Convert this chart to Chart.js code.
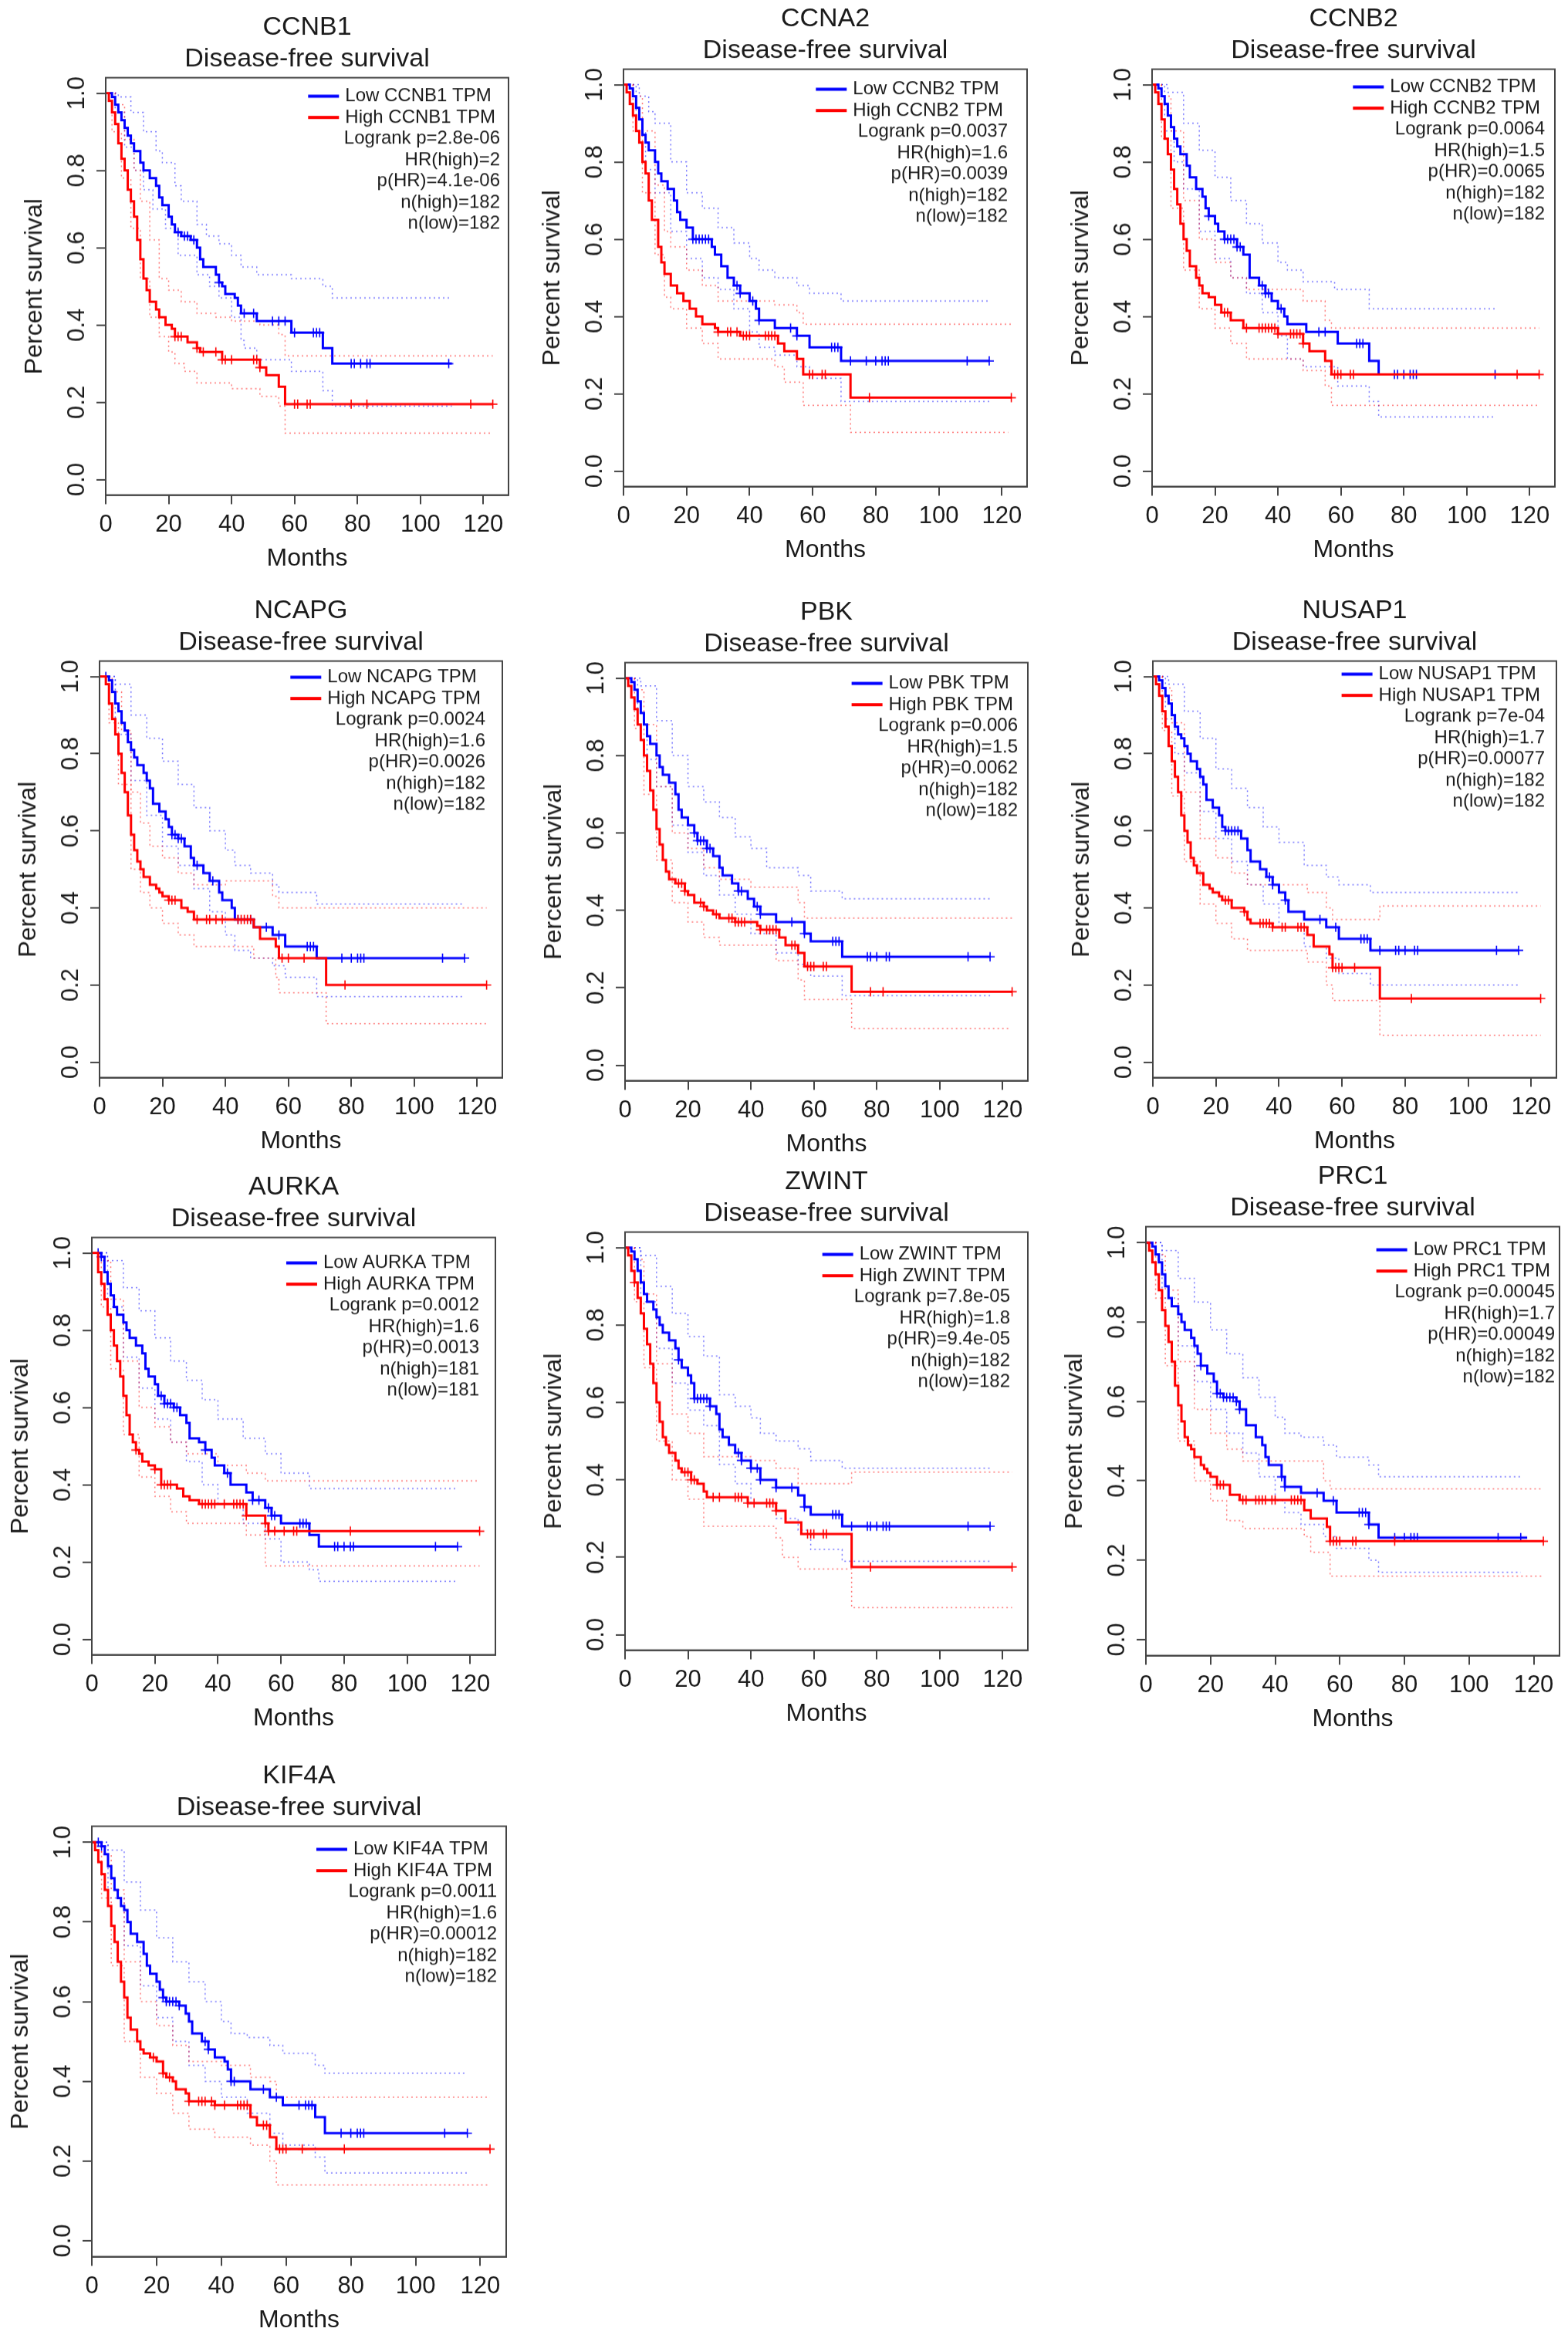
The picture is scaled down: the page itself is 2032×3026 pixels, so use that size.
<!DOCTYPE html>
<html>
<head>
<meta charset="utf-8">
<title>Disease-free survival, 10 genes</title>
<script src="https://cdn.jsdelivr.net/npm/chart.js@4.4.1/dist/chart.umd.min.js"></script>
<style>
  html, body { margin: 0; padding: 0; background: #fff; }
  #page { position: relative; width: 2032px; height: 3026px; }
  .panel { position: absolute; }
</style>
</head>
<body>
<div id="page"></div>
<script>
/* ---------- Data ---------- */

const geneNames = ['CCNB1', 'CCNA2', 'CCNB2', 'NCAPG', 'PBK', 'NUSAP1', 'AURKA', 'ZWINT', 'PRC1', 'KIF4A'];
// the CCNA2 panel is labelled with CCNB2 in its legend, as in the original
const legendGenes = ['CCNB1', 'CCNB2', 'CCNB2', 'NCAPG', 'PBK', 'NUSAP1', 'AURKA', 'ZWINT', 'PRC1', 'KIF4A'];
const monthTicks = [0, 20, 40, 60, 80, 100, 120];
const survivalTicks = [0, 0.2, 0.4, 0.6, 0.8, 1.0];

const logrankP = ['2.8e-06', '0.0037', '0.0064', '0.0024', '0.006', '7e-04', '0.0012', '7.8e-05', '0.00045', '0.0011'];
const hrHigh = ['2', '1.6', '1.5', '1.6', '1.5', '1.7', '1.6', '1.8', '1.7', '1.6'];
const pHR = ['4.1e-06', '0.0039', '0.0065', '0.0026', '0.0062', '0.00077', '0.0013', '9.4e-05', '0.00049', '0.00012'];
const nHigh = [182, 182, 182, 182, 182, 182, 181, 182, 182, 182];
const nLow = [182, 182, 182, 182, 182, 182, 181, 182, 182, 182];

// CCNB1
const ccnb1Low = [[0,1],[2,0.99],[3,0.97],[4,0.95],[5,0.93],[6,0.91],[7,0.89],[8,0.87],[9,0.85],[11,0.82],[12,0.80],[14,0.78],[16,0.76],[17,0.73],[18,0.71],[20,0.68],[21,0.66],[22,0.64],[24,0.63],[27,0.62],[29,0.60],[30,0.57],[31,0.55],[35,0.53],[36,0.51],[37,0.50],[38,0.48],[41,0.47],[42,0.45],[43,0.43],[48,0.41],[59,0.38],[69,0.34],[72,0.30],[110,0.30]];
const ccnb1High = [[0,1],[1,0.98],[2,0.95],[3,0.92],[4,0.87],[5,0.83],[6,0.80],[7,0.75],[8,0.72],[9,0.68],[10,0.62],[11,0.57],[12,0.52],[13,0.49],[14,0.46],[16,0.44],[17,0.42],[19,0.40],[21,0.39],[22,0.37],[26,0.355],[29,0.34],[30,0.33],[37,0.31],[49,0.29],[51,0.27],[55,0.24],[57,0.195],[123,0.195]];
const ccnb1LowCens = [23,25,26,28,36,44,47,53,55,57,60,66,67,68,78,79,81,83,84,109];
const ccnb1HighCens = [22,23,24,29,31,35,37,38,40,47,48,49,60,61,64,65,78,83,116,123];
const ccnb1LowUp = [[0,1],[4,0.99],[8,0.95],[12,0.90],[16,0.85],[18,0.82],[22,0.76],[24,0.72],[29,0.66],[32,0.63],[36,0.61],[40,0.58],[43,0.55],[48,0.53],[59,0.52],[69,0.50],[72,0.47],[110,0.47]];
const ccnb1LowDn = [[0,1],[3,0.95],[6,0.86],[9,0.80],[12,0.75],[15,0.70],[19,0.65],[23,0.58],[29,0.53],[33,0.50],[36,0.47],[40,0.42],[43,0.36],[44,0.34],[48,0.31],[59,0.28],[69,0.23],[72,0.19],[110,0.19]];
const ccnb1HighUp = [[0,1],[3,0.97],[6,0.88],[9,0.80],[11,0.72],[14,0.62],[17,0.52],[20,0.49],[24,0.46],[29,0.43],[35,0.42],[40,0.41],[49,0.40],[55,0.375],[57,0.32],[123,0.32]];
const ccnb1HighDn = [[0,1],[2,0.90],[5,0.78],[8,0.65],[11,0.52],[14,0.42],[17,0.37],[20,0.33],[22,0.30],[25,0.28],[29,0.25],[40,0.235],[49,0.215],[55,0.19],[57,0.12],[123,0.12]];

// CCNA2
const ccna2Low = [[0,1],[2,0.99],[3,0.97],[4,0.94],[5,0.91],[6,0.87],[7,0.85],[8,0.83],[10,0.80],[11,0.77],[12,0.75],[14,0.73],[16,0.70],[17,0.67],[18,0.65],[20,0.63],[22,0.60],[28,0.58],[29,0.56],[31,0.53],[33,0.50],[35,0.48],[37,0.46],[40,0.44],[42,0.42],[43,0.39],[48,0.37],[55,0.35],[59,0.32],[69,0.285],[116,0.285]];
const ccna2High = [[0,1],[1,0.98],[2,0.95],[3,0.92],[4,0.88],[5,0.85],[6,0.80],[7,0.77],[8,0.70],[9,0.65],[11,0.58],[12,0.54],[13,0.51],[15,0.48],[17,0.46],[19,0.44],[21,0.42],[23,0.40],[25,0.38],[29,0.37],[30,0.36],[37,0.35],[49,0.33],[51,0.31],[55,0.29],[57,0.25],[72,0.19],[123,0.19]];
const ccna2LowCens = [22,23,24,25,26,27,36,37,41,43,53,55,66,67,68,72,77,80,82,83,84,109,116];
const ccna2HighCens = [30,33,34,36,38,39,40,45,46,47,48,59,60,63,64,78,123];
const ccna2LowUp = [[0,1],[5,0.97],[8,0.93],[10,0.90],[15,0.80],[20,0.72],[25,0.68],[30,0.63],[35,0.59],[40,0.55],[43,0.52],[48,0.50],[55,0.48],[59,0.46],[69,0.44],[116,0.44]];
const ccna2LowDn = [[0,1],[4,0.88],[7,0.78],[10,0.72],[15,0.62],[20,0.55],[25,0.50],[30,0.47],[35,0.42],[40,0.36],[43,0.32],[48,0.30],[55,0.27],[59,0.24],[69,0.18],[116,0.18]];
const ccna2HighUp = [[0,1],[3,0.97],[6,0.88],[10,0.74],[13,0.62],[15,0.58],[20,0.52],[25,0.48],[30,0.44],[40,0.44],[48,0.43],[55,0.41],[57,0.38],[123,0.38]];
const ccna2HighDn = [[0,1],[3,0.88],[6,0.72],[10,0.56],[13,0.45],[15,0.42],[20,0.37],[25,0.33],[30,0.29],[48,0.27],[51,0.23],[57,0.17],[72,0.10],[122,0.10]];

// CCNB2
const ccnb2Low = [[0,1],[2,0.99],[3,0.97],[4,0.95],[5,0.92],[6,0.89],[7,0.86],[8,0.84],[9,0.82],[11,0.79],[12,0.76],[14,0.73],[16,0.71],[17,0.68],[18,0.66],[20,0.64],[21,0.62],[23,0.60],[27,0.58],[29,0.56],[31,0.50],[34,0.48],[36,0.46],[38,0.44],[40,0.42],[42,0.40],[43,0.38],[49,0.36],[59,0.33],[69,0.285],[72,0.25],[109,0.25]];
const ccnb2High = [[0,1],[1,0.98],[2,0.95],[3,0.91],[4,0.86],[5,0.82],[6,0.78],[7,0.73],[8,0.69],[9,0.64],[10,0.60],[11,0.57],[12,0.53],[14,0.50],[15,0.48],[16,0.46],[18,0.45],[20,0.43],[22,0.41],[25,0.39],[29,0.37],[40,0.355],[48,0.33],[50,0.31],[55,0.285],[57,0.25],[123,0.25]];
const ccnb2LowCens = [18,23,24,25,26,27,28,35,36,37,41,53,55,65,66,67,77,78,80,82,83,84,109];
const ccnb2HighCens = [23,24,30,34,35,36,37,38,39,40,44,45,46,47,48,58,59,60,63,64,116,123];
const ccnb2LowUp = [[0,1],[5,0.98],[10,0.90],[15,0.83],[20,0.76],[25,0.70],[30,0.64],[35,0.59],[40,0.54],[43,0.52],[48,0.49],[58,0.47],[69,0.42],[109,0.42]];
const ccnb2LowDn = [[0,1],[4,0.88],[7,0.80],[10,0.73],[15,0.62],[20,0.55],[25,0.50],[30,0.46],[35,0.41],[40,0.35],[43,0.29],[48,0.27],[59,0.22],[69,0.18],[72,0.14],[109,0.14]];
const ccnb2HighUp = [[0,1],[3,0.97],[6,0.88],[10,0.70],[15,0.60],[20,0.54],[25,0.50],[30,0.47],[48,0.44],[55,0.39],[57,0.37],[123,0.37]];
const ccnb2HighDn = [[0,1],[3,0.86],[6,0.68],[10,0.52],[15,0.42],[20,0.37],[25,0.33],[30,0.29],[48,0.26],[55,0.22],[57,0.17],[123,0.17]];

// NCAPG
const ncapgLow = [[0,1],[3,0.99],[4,0.96],[5,0.93],[6,0.91],[7,0.88],[8,0.86],[9,0.83],[10,0.81],[11,0.79],[12,0.77],[14,0.75],[15,0.73],[16,0.71],[17,0.67],[19,0.65],[21,0.63],[22,0.61],[23,0.59],[25,0.58],[27,0.56],[29,0.53],[30,0.51],[33,0.49],[35,0.47],[38,0.44],[39,0.42],[42,0.40],[43,0.37],[49,0.35],[55,0.33],[59,0.30],[69,0.27],[116,0.27]];
const ncapgHigh = [[0,1],[2,0.98],[3,0.93],[4,0.89],[5,0.85],[6,0.80],[7,0.75],[8,0.70],[9,0.64],[10,0.59],[11,0.55],[12,0.52],[13,0.50],[14,0.48],[16,0.46],[18,0.45],[19,0.44],[20,0.43],[22,0.42],[26,0.40],[28,0.39],[30,0.37],[49,0.35],[51,0.32],[56,0.30],[57,0.27],[72,0.20],[123,0.20]];
const ncapgLowCens = [2,23,24,25,26,31,36,44,48,53,57,66,67,68,77,80,82,83,84,109,116];
const ncapgHighCens = [22,23,24,31,34,35,37,39,44,45,46,47,48,58,60,65,78,123];
const ncapgLowUp = [[0,1],[5,0.98],[10,0.90],[15,0.84],[20,0.78],[25,0.72],[30,0.66],[35,0.60],[40,0.55],[43,0.51],[48,0.49],[55,0.46],[57,0.44],[69,0.41],[116,0.41]];
const ncapgLowDn = [[0,1],[5,0.85],[10,0.73],[15,0.64],[20,0.56],[25,0.51],[30,0.45],[35,0.39],[40,0.33],[43,0.29],[48,0.27],[55,0.25],[59,0.22],[69,0.17],[116,0.17]];
const ncapgHighUp = [[0,1],[4,0.96],[7,0.86],[10,0.70],[13,0.62],[16,0.56],[20,0.53],[25,0.49],[30,0.46],[40,0.47],[48,0.47],[55,0.43],[57,0.40],[123,0.40]];
const ncapgHighDn = [[0,1],[3,0.88],[6,0.72],[10,0.50],[13,0.44],[16,0.40],[20,0.36],[25,0.33],[30,0.30],[49,0.27],[56,0.22],[57,0.18],[72,0.10],[123,0.10]];

// PBK
const pbkLow = [[0,1],[2,0.99],[3,0.97],[4,0.94],[5,0.91],[6,0.88],[7,0.85],[8,0.83],[10,0.80],[11,0.77],[12,0.75],[14,0.73],[16,0.70],[17,0.66],[18,0.64],[20,0.62],[22,0.60],[23,0.58],[26,0.56],[28,0.54],[30,0.51],[31,0.49],[34,0.47],[36,0.45],[39,0.43],[41,0.41],[43,0.39],[48,0.37],[57,0.34],[59,0.32],[69,0.28],[116,0.28]];
const pbkHigh = [[0,1],[1,0.98],[2,0.95],[3,0.92],[4,0.88],[5,0.84],[6,0.80],[7,0.76],[8,0.71],[9,0.66],[10,0.61],[11,0.57],[12,0.53],[13,0.50],[14,0.48],[16,0.47],[19,0.45],[20,0.44],[22,0.42],[25,0.41],[26,0.40],[28,0.39],[30,0.38],[35,0.37],[42,0.36],[43,0.35],[49,0.33],[51,0.31],[55,0.29],[57,0.255],[72,0.19],[123,0.19]];
const pbkLowCens = [22,23,24,25,26,27,36,37,42,43,53,57,66,67,68,77,78,80,83,84,109,116];
const pbkHighCens = [17,18,19,24,25,29,33,34,35,36,37,38,43,45,46,47,48,53,54,58,59,60,63,64,78,82,123];
const pbkLowUp = [[0,1],[5,0.98],[10,0.89],[15,0.80],[20,0.72],[25,0.68],[30,0.64],[35,0.59],[40,0.56],[45,0.51],[55,0.49],[59,0.45],[69,0.43],[116,0.43]];
const pbkLowDn = [[0,1],[4,0.88],[7,0.79],[10,0.72],[15,0.62],[20,0.55],[25,0.49],[30,0.44],[35,0.39],[40,0.34],[48,0.29],[55,0.26],[59,0.23],[69,0.18],[116,0.18]];
const pbkHighUp = [[0,1],[3,0.97],[6,0.88],[10,0.72],[15,0.60],[20,0.56],[25,0.51],[30,0.48],[40,0.46],[48,0.46],[55,0.42],[57,0.38],[123,0.38]];
const pbkHighDn = [[0,1],[3,0.87],[6,0.70],[10,0.53],[15,0.42],[20,0.37],[25,0.33],[30,0.31],[48,0.27],[55,0.22],[57,0.17],[72,0.095],[122,0.095]];

// NUSAP1
const nusap1Low = [[0,1],[2,0.99],[3,0.97],[4,0.95],[5,0.93],[6,0.90],[7,0.87],[8,0.85],[9,0.84],[10,0.82],[11,0.80],[12,0.78],[14,0.76],[15,0.74],[16,0.72],[17,0.68],[19,0.66],[21,0.64],[22,0.61],[23,0.60],[28,0.58],[30,0.55],[31,0.52],[34,0.50],[36,0.48],[38,0.46],[40,0.44],[42,0.42],[43,0.39],[48,0.37],[55,0.35],[59,0.32],[69,0.29],[116,0.29]];
const nusap1High = [[0,1],[1,0.98],[2,0.95],[3,0.91],[4,0.87],[5,0.82],[6,0.78],[7,0.74],[8,0.70],[9,0.64],[10,0.60],[11,0.57],[12,0.53],[13,0.51],[14,0.49],[16,0.46],[18,0.45],[19,0.44],[21,0.43],[22,0.42],[25,0.40],[29,0.39],[30,0.37],[31,0.36],[38,0.35],[49,0.33],[51,0.30],[56,0.28],[57,0.245],[72,0.165],[123,0.165]];
const nusap1LowCens = [23,24,25,26,27,37,38,42,53,58,66,67,68,72,77,78,80,83,84,109,116];
const nusap1HighCens = [23,24,29,34,35,36,37,38,41,42,46,47,48,57,58,59,60,64,82,123];
const nusap1LowUp = [[0,1],[5,0.98],[10,0.91],[15,0.84],[20,0.76],[25,0.71],[30,0.66],[35,0.61],[40,0.57],[48,0.51],[55,0.48],[59,0.46],[69,0.44],[116,0.44]];
const nusap1LowDn = [[0,1],[4,0.89],[7,0.80],[10,0.75],[15,0.65],[20,0.58],[25,0.52],[30,0.46],[35,0.41],[40,0.35],[48,0.30],[55,0.27],[59,0.23],[69,0.20],[116,0.20]];
const nusap1HighUp = [[0,1],[3,0.97],[6,0.88],[10,0.70],[15,0.58],[20,0.53],[25,0.49],[30,0.46],[40,0.46],[49,0.44],[55,0.40],[57,0.37],[72,0.405],[123,0.405]];
const nusap1HighDn = [[0,1],[3,0.86],[6,0.69],[10,0.52],[15,0.41],[20,0.36],[25,0.32],[30,0.29],[49,0.26],[55,0.20],[57,0.16],[72,0.07],[123,0.07]];

// AURKA
const aurkaLow = [[0,1],[3,0.99],[4,0.95],[5,0.92],[6,0.89],[7,0.86],[8,0.84],[10,0.82],[11,0.80],[12,0.78],[14,0.76],[16,0.74],[17,0.70],[18,0.68],[20,0.66],[21,0.63],[23,0.61],[26,0.60],[28,0.58],[30,0.56],[31,0.52],[34,0.51],[36,0.49],[38,0.47],[39,0.45],[42,0.43],[44,0.40],[49,0.38],[51,0.36],[55,0.34],[57,0.32],[60,0.30],[69,0.27],[72,0.24],[116,0.24]];
const aurkaHigh = [[0,1],[2,0.95],[3,0.92],[4,0.88],[5,0.84],[6,0.80],[7,0.76],[8,0.72],[9,0.68],[10,0.63],[11,0.58],[12,0.53],[13,0.51],[14,0.49],[15,0.48],[16,0.46],[18,0.45],[20,0.44],[22,0.40],[27,0.39],[29,0.37],[31,0.36],[34,0.35],[49,0.32],[55,0.30],[56,0.28],[123,0.28]];
const aurkaLowCens = [2,3,22,23,24,25,26,27,36,43,51,53,56,57,58,66,67,68,77,78,80,82,83,109,116];
const aurkaHighCens = [14,20,22,23,24,25,35,36,37,38,39,42,45,46,47,48,49,55,56,58,61,64,65,82,123];
const aurkaLowUp = [[0,1],[5,0.98],[10,0.91],[15,0.85],[20,0.78],[25,0.72],[30,0.67],[35,0.62],[40,0.57],[48,0.52],[55,0.48],[60,0.43],[69,0.39],[116,0.39]];
const aurkaLowDn = [[0,1],[5,0.86],[10,0.73],[15,0.65],[20,0.57],[25,0.51],[30,0.46],[35,0.40],[40,0.35],[48,0.30],[55,0.26],[60,0.20],[69,0.18],[72,0.15],[116,0.15]];
const aurkaHighUp = [[0,1],[3,0.98],[6,0.88],[10,0.72],[15,0.60],[20,0.55],[25,0.51],[30,0.48],[40,0.45],[49,0.43],[55,0.41],[123,0.41]];
const aurkaHighDn = [[0,1],[3,0.86],[6,0.70],[10,0.53],[15,0.42],[20,0.37],[25,0.33],[30,0.30],[49,0.27],[55,0.19],[123,0.19]];

// ZWINT
const zwintLow = [[0,1],[2,0.99],[3,0.97],[4,0.94],[5,0.91],[6,0.88],[7,0.86],[9,0.84],[10,0.82],[11,0.80],[12,0.78],[14,0.76],[16,0.74],[17,0.71],[18,0.69],[20,0.67],[21,0.65],[22,0.61],[27,0.59],[29,0.57],[30,0.53],[31,0.51],[33,0.49],[35,0.47],[37,0.45],[40,0.43],[43,0.40],[48,0.38],[55,0.36],[57,0.33],[59,0.31],[69,0.28],[116,0.28]];
const zwintHigh = [[0,1],[1,0.98],[2,0.94],[3,0.91],[4,0.87],[5,0.83],[6,0.79],[7,0.75],[8,0.70],[9,0.65],[10,0.60],[11,0.55],[12,0.51],[13,0.49],[14,0.47],[16,0.45],[17,0.43],[18,0.42],[21,0.40],[23,0.39],[25,0.37],[26,0.355],[39,0.34],[48,0.32],[51,0.29],[56,0.26],[72,0.175],[123,0.175]];
const zwintLowCens = [17,22,23,24,25,26,27,36,37,40,42,43,48,53,57,66,67,68,72,77,78,80,82,83,84,109,116];
const zwintHighCens = [3,19,20,21,22,28,30,35,36,37,39,41,45,46,47,48,58,59,60,63,64,78,123];
const zwintLowUp = [[0,1],[5,0.98],[10,0.90],[15,0.83],[20,0.77],[25,0.72],[30,0.62],[35,0.59],[40,0.56],[43,0.52],[48,0.50],[55,0.48],[59,0.45],[69,0.43],[116,0.43]];
const zwintLowDn = [[0,1],[5,0.86],[10,0.74],[15,0.65],[20,0.58],[25,0.54],[30,0.44],[35,0.39],[40,0.34],[48,0.30],[55,0.27],[59,0.22],[69,0.19],[116,0.19]];
const zwintHighUp = [[0,1],[3,0.97],[6,0.88],[10,0.70],[15,0.57],[20,0.52],[25,0.46],[40,0.45],[48,0.43],[55,0.39],[72,0.42],[123,0.42]];
const zwintHighDn = [[0,1],[3,0.86],[6,0.69],[10,0.50],[15,0.40],[20,0.35],[25,0.28],[48,0.25],[50,0.20],[55,0.17],[72,0.07],[123,0.07]];

// PRC1
const prc1Low = [[0,1],[2,0.99],[3,0.97],[4,0.95],[5,0.92],[6,0.89],[7,0.86],[8,0.84],[10,0.82],[11,0.80],[12,0.78],[14,0.76],[15,0.74],[16,0.72],[17,0.69],[19,0.67],[21,0.65],[22,0.62],[24,0.61],[28,0.60],[29,0.58],[31,0.54],[34,0.51],[36,0.49],[37,0.46],[38,0.44],[42,0.41],[43,0.385],[48,0.37],[55,0.35],[59,0.32],[69,0.29],[72,0.257],[118,0.257]];
const prc1High = [[0,1],[1,0.98],[2,0.95],[3,0.92],[4,0.88],[5,0.83],[6,0.79],[7,0.75],[8,0.70],[9,0.64],[10,0.59],[11,0.55],[12,0.51],[13,0.49],[14,0.48],[15,0.46],[17,0.44],[18,0.43],[19,0.42],[20,0.41],[22,0.39],[26,0.365],[29,0.352],[49,0.326],[51,0.305],[56,0.284],[57,0.248],[123,0.248]];
const prc1LowCens = [17,22,23,24,25,26,27,28,29,42,43,53,58,66,67,68,69,77,80,82,83,84,109,116];
const prc1HighCens = [22,23,24,30,31,34,35,36,37,39,40,45,46,47,48,57,58,59,60,64,65,77,123];
const prc1LowUp = [[0,1],[5,0.98],[10,0.91],[15,0.85],[20,0.78],[25,0.72],[30,0.66],[35,0.61],[40,0.56],[43,0.52],[48,0.51],[55,0.49],[59,0.46],[69,0.44],[72,0.41],[116,0.41]];
const prc1LowDn = [[0,1],[5,0.86],[10,0.74],[15,0.65],[20,0.58],[25,0.52],[30,0.47],[35,0.41],[40,0.35],[43,0.32],[48,0.29],[55,0.26],[59,0.23],[69,0.20],[72,0.17],[116,0.17]];
const prc1HighUp = [[0,1],[3,0.97],[6,0.88],[10,0.70],[15,0.58],[20,0.52],[25,0.48],[30,0.45],[48,0.45],[55,0.40],[57,0.38],[123,0.38]];
const prc1HighDn = [[0,1],[3,0.86],[6,0.69],[10,0.50],[15,0.40],[20,0.35],[25,0.30],[30,0.28],[49,0.26],[51,0.22],[57,0.16],[123,0.16]];

// KIF4A
const kif4aLow = [[0,1],[3,0.99],[4,0.97],[5,0.94],[6,0.91],[7,0.88],[8,0.86],[9,0.84],[10,0.83],[11,0.80],[12,0.77],[14,0.75],[16,0.72],[17,0.69],[18,0.67],[20,0.65],[21,0.63],[22,0.61],[23,0.60],[27,0.59],[29,0.57],[30,0.55],[31,0.52],[34,0.50],[36,0.48],[38,0.46],[41,0.45],[42,0.43],[43,0.40],[49,0.38],[55,0.36],[59,0.34],[69,0.31],[72,0.27],[116,0.27]];
const kif4aHigh = [[0,1],[1,0.98],[2,0.95],[3,0.92],[4,0.88],[5,0.84],[6,0.79],[7,0.75],[8,0.70],[9,0.65],[10,0.61],[11,0.56],[12,0.53],[14,0.50],[15,0.48],[16,0.47],[18,0.46],[20,0.45],[22,0.42],[23,0.41],[25,0.40],[26,0.38],[29,0.37],[30,0.35],[38,0.34],[49,0.31],[51,0.29],[55,0.26],[57,0.23],[123,0.23]];
const kif4aLowCens = [2,3,22,23,24,25,26,27,35,36,43,44,53,57,64,66,67,68,77,80,82,83,84,109,116];
const kif4aHighCens = [19,22,24,30,33,34,35,37,38,41,45,46,47,48,53,54,58,59,60,65,78,123];
const kif4aLowUp = [[0,1],[5,0.98],[10,0.90],[15,0.83],[20,0.76],[25,0.70],[30,0.65],[35,0.60],[40,0.55],[43,0.52],[48,0.51],[55,0.49],[59,0.47],[69,0.44],[72,0.42],[116,0.42]];
const kif4aLowDn = [[0,1],[5,0.86],[10,0.74],[15,0.64],[20,0.56],[25,0.50],[30,0.44],[35,0.40],[40,0.36],[48,0.32],[55,0.27],[59,0.24],[69,0.21],[72,0.17],[116,0.17]];
const kif4aHighUp = [[0,1],[3,0.97],[6,0.88],[10,0.70],[15,0.60],[20,0.54],[25,0.49],[30,0.45],[40,0.44],[49,0.41],[55,0.40],[57,0.36],[123,0.36]];
const kif4aHighDn = [[0,1],[3,0.86],[6,0.69],[10,0.50],[15,0.41],[20,0.37],[25,0.32],[30,0.28],[38,0.26],[49,0.24],[55,0.20],[57,0.14],[123,0.14]];

/* ---------- Layout (page pixels: plot box left, top, right, bottom) ---------- */

const plotBoxes = [
  [137, 101, 659, 641], [808, 90, 1331, 630], [1493, 90, 2015, 630],
  [129, 857, 651, 1396], [810, 859, 1332, 1400], [1494, 857, 2017, 1396],
  [119, 1604, 642, 2144], [810, 1597, 1332, 2138], [1485, 1590, 2021, 2145],
  [119, 2367, 656, 2924]
];
// legend: inset from the right edge, first line below the top edge
const legendSpots = [[11, 24], [25, 26], [13, 23], [22, 21], [13, 27], [15, 17], [21, 33], [23, 29], [6, 30], [12, 30]];

const FONT = "'Liberation Sans', Arial, Helvetica, sans-serif";
const INK = '#1a1a1a';
const FRAME = '#444';
const BLUE = '#0000ff';
const RED = '#ff0000';
const AXIS_W = 130, TITLE_H = 89.6, XAXIS_H = 115, PAD_R = 20;

Chart.defaults.font.family = FONT;
Chart.defaults.color = INK;

/* ---------- Helpers ---------- */

function stepAt(curve, t) {
  let s = curve[0][1];
  for (const [x, y] of curve) {
    if (x <= t) s = y; else break;
  }
  return s;
}
const pts = (curve) => curve.map(([x, y]) => ({ x, y }));
const marks = (curve, times) => times.map((t) => ({ x: t, y: stepAt(curve, t) }));

function kmLine(curve, color) {
  return { data: pts(curve), borderColor: color, borderWidth: 3, stepped: 'before', pointRadius: 0, fill: false };
}
function ciLine(curve, color) {
  return { data: pts(curve), borderColor: color, borderWidth: 1.5, borderDash: [2, 4], stepped: 'before', pointRadius: 0, fill: false };
}
function censor(curve, times, color) {
  return { data: marks(curve, times), showLine: false, pointStyle: 'cross', pointRadius: 6, pointBorderWidth: 1.6, borderColor: color, pointBorderColor: color };
}

/* ---------- Box + legend plugin ---------- */

const boxAndLegend = {
  id: 'boxAndLegend',
  afterDraw(chart, args, opts) {
    const { ctx, chartArea: a } = chart;
    ctx.save();
    ctx.strokeStyle = FRAME;
    ctx.lineWidth = 2;
    ctx.strokeRect(a.left, a.top, a.right - a.left, a.bottom - a.top);

    ctx.font = '24px ' + FONT;
    ctx.fillStyle = INK;
    ctx.textBaseline = 'middle';
    const right = a.right - opts.inset;
    const top = a.top + opts.down;
    const lh = 27.5;
    const names = ['Low ' + opts.gene + ' TPM', 'High ' + opts.gene + ' TPM'];
    const w = Math.max(...names.map((n) => ctx.measureText(n).width));
    const tx = right - w - 6;
    [BLUE, RED].forEach((c, i) => {
      const y = top + i * lh;
      ctx.strokeStyle = c;
      ctx.lineWidth = 4;
      ctx.beginPath();
      ctx.moveTo(tx - 48, y);
      ctx.lineTo(tx - 8, y);
      ctx.stroke();
      ctx.textAlign = 'left';
      ctx.fillText(names[i], tx, y);
    });
    ctx.textAlign = 'right';
    opts.stats.forEach((s, i) => ctx.fillText(s, right, top + (i + 2) * lh));
    ctx.restore();
  }
};

/* ---------- Panels ---------- */

const panelCurves = [
  [ccnb1Low, ccnb1High, ccnb1LowCens, ccnb1HighCens, ccnb1LowUp, ccnb1LowDn, ccnb1HighUp, ccnb1HighDn],
  [ccna2Low, ccna2High, ccna2LowCens, ccna2HighCens, ccna2LowUp, ccna2LowDn, ccna2HighUp, ccna2HighDn],
  [ccnb2Low, ccnb2High, ccnb2LowCens, ccnb2HighCens, ccnb2LowUp, ccnb2LowDn, ccnb2HighUp, ccnb2HighDn],
  [ncapgLow, ncapgHigh, ncapgLowCens, ncapgHighCens, ncapgLowUp, ncapgLowDn, ncapgHighUp, ncapgHighDn],
  [pbkLow, pbkHigh, pbkLowCens, pbkHighCens, pbkLowUp, pbkLowDn, pbkHighUp, pbkHighDn],
  [nusap1Low, nusap1High, nusap1LowCens, nusap1HighCens, nusap1LowUp, nusap1LowDn, nusap1HighUp, nusap1HighDn],
  [aurkaLow, aurkaHigh, aurkaLowCens, aurkaHighCens, aurkaLowUp, aurkaLowDn, aurkaHighUp, aurkaHighDn],
  [zwintLow, zwintHigh, zwintLowCens, zwintHighCens, zwintLowUp, zwintLowDn, zwintHighUp, zwintHighDn],
  [prc1Low, prc1High, prc1LowCens, prc1HighCens, prc1LowUp, prc1LowDn, prc1HighUp, prc1HighDn],
  [kif4aLow, kif4aHigh, kif4aLowCens, kif4aHighCens, kif4aLowUp, kif4aLowDn, kif4aHighUp, kif4aHighDn]
];

const page = document.getElementById('page');

geneNames.forEach((gene, i) => {
  const [L, T, R, B] = plotBoxes[i];
  const div = document.createElement('div');
  div.className = 'panel';
  div.style.left = (L - AXIS_W) + 'px';
  div.style.top = (T - TITLE_H) + 'px';
  div.style.width = (AXIS_W + (R - L) + PAD_R) + 'px';
  div.style.height = (TITLE_H + (B - T) + XAXIS_H) + 'px';
  const canvas = document.createElement('canvas');
  div.appendChild(canvas);
  page.appendChild(div);

  const [low, high, lowCens, highCens, lowUp, lowDn, highUp, highDn] = panelCurves[i];

  new Chart(canvas, {
    type: 'line',
    data: {
      datasets: [
        kmLine(high, RED),
        censor(high, highCens, RED),
        kmLine(low, BLUE),
        censor(low, lowCens, BLUE),
        ciLine(highUp, 'rgba(255,0,0,0.55)'),
        ciLine(highDn, 'rgba(255,0,0,0.55)'),
        ciLine(lowUp, 'rgba(0,0,255,0.55)'),
        ciLine(lowDn, 'rgba(0,0,255,0.55)')
      ]
    },
    options: {
      responsive: true,
      maintainAspectRatio: false,
      animation: false,
      events: [],
      layout: { padding: { right: PAD_R } },
      plugins: {
        legend: { display: false },
        tooltip: { enabled: false },
        title: {
          display: true,
          fullSize: false,
          text: [gene, 'Disease-free survival'],
          color: INK,
          font: { family: FONT, size: 34, weight: 'normal', lineHeight: 1.2 },
          padding: { top: 4, bottom: 4 }
        },
        boxAndLegend: {
          gene: legendGenes[i],
          inset: legendSpots[i][0],
          down: legendSpots[i][1],
          stats: [
            'Logrank p=' + logrankP[i],
            'HR(high)=' + hrHigh[i],
            'p(HR)=' + pHR[i],
            'n(high)=' + nHigh[i],
            'n(low)=' + nLow[i]
          ]
        }
      },
      scales: {
        x: {
          type: 'linear',
          min: 0,
          max: 128,
          afterBuildTicks: (s) => { s.ticks = monthTicks.map((v) => ({ value: v })); },
          afterFit: (s) => { s.height = XAXIS_H; },
          grid: { drawOnChartArea: false, tickLength: 12, color: FRAME, lineWidth: 2 },
          border: { color: FRAME, width: 2 },
          ticks: { autoSkip: false, maxRotation: 0, padding: 8, color: INK, font: { size: 31 } },
          title: { display: true, text: 'Months', color: INK, font: { size: 32 }, padding: { top: 0, bottom: 13 } }
        },
        y: {
          type: 'linear',
          min: -0.04,
          max: 1.04,
          afterBuildTicks: (s) => { s.ticks = survivalTicks.map((v) => ({ value: v })); },
          afterFit: (s) => { s.width = AXIS_W; },
          grid: { drawOnChartArea: false, tickLength: 12, color: FRAME, lineWidth: 2 },
          border: { color: FRAME, width: 2 },
          ticks: {
            autoSkip: false,
            minRotation: 90,
            maxRotation: 90,
            crossAlign: 'center',
            padding: 3,
            color: INK,
            font: { size: 31 },
            callback: (v) => Number(v).toFixed(1)
          },
          title: { display: true, text: 'Percent survival', color: INK, font: { size: 32 }, padding: { top: 19, bottom: 0 } }
        }
      }
    },
    plugins: [boxAndLegend]
  });
});
</script>
</body>
</html>
